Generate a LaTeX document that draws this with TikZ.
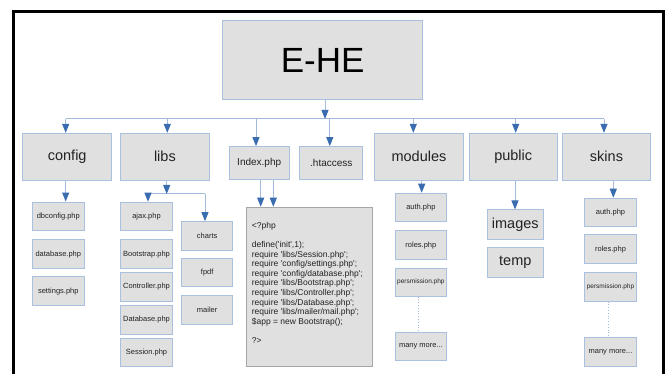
\documentclass[tikz,border=0pt]{standalone}
\usepackage{fontspec}
\setmainfont{Liberation Sans}
\usetikzlibrary{arrows.meta}
\definecolor{boxfill}{HTML}{E0E0E0}
\definecolor{boxborder}{HTML}{A9C0DE}
\definecolor{linec}{HTML}{A3BBDA}
\definecolor{arrowc}{HTML}{3A6CB0}
\definecolor{textc}{HTML}{222222}
\definecolor{codeborder}{HTML}{A6A6A6}
\newcommand{\qq}{\textquotesingle}
\tikzset{
  box/.style={draw=boxborder, fill=boxfill, line width=1pt, inner sep=0pt, text=textc},
  bigbox/.style={box, font=\fontsize{14.5}{17}\selectfont, minimum height=46.7pt},
  midbox/.style={box, font=\fontsize{10}{12}\selectfont, minimum height=33.3pt},
  smallbox/.style={box, font=\fontsize{7.5}{9}\selectfont, minimum width=52pt, minimum height=28.5pt},
  conn/.style={draw=linec, line width=1pt},
  arr/.style={conn, -{Triangle[width=7pt,length=9pt,color=arrowc]}},
  dotline/.style={draw=linec, line width=0.8pt, dotted}
}
\begin{document}
\begin{tikzpicture}[x=1pt,y=-1pt]
\useasboundingbox (0,0) rectangle (670,374);
% frame
\draw[line width=3.3pt, black] (13.7,374) -- (13.7,11.7) -- (663.5,11.7) -- (663.5,374);

% root
\node[box, minimum width=200pt, minimum height=79pt, font=\fontsize{35}{40}\selectfont, text=black] (ehe) at (322.7,60.5) {E-HE};

% level 1
\node[bigbox, minimum width=89pt] (config) at (67.2,156.7) {config};
\node[bigbox, minimum width=88.3pt] (libs) at (164.9,156.7) {libs};
\node[midbox, minimum width=60.3pt] (index) at (259.2,163.3) {Index.php};
\node[midbox, minimum width=62.7pt] (htaccess) at (331.3,163.3) {.htaccess};
\node[bigbox, minimum width=88.6pt] (modules) at (419,156.7) {modules};
\node[bigbox, minimum width=88.3pt] (public) at (513.2,156.7) {public};
\node[bigbox, minimum width=88.4pt] (skins) at (606.5,156.7) {skins};

% bus
\coordinate (busL) at (65.7,119);
\coordinate (busR) at (604,119);
\coordinate (busM) at (325,119);
\draw[conn] (busL) -- (busR);
\draw[arr] (ehe.south -| busM) -- (busM);
\draw[arr] (busL) -- (busL |- config.north);
\draw[arr] ([xshift=2.4pt]libs.north |- busL) -- ([xshift=2.4pt]libs.north);
\draw[arr] ([xshift=-3.2pt]index.north |- busL) -- ([xshift=-3.2pt]index.north);
\draw[arr] ([xshift=-1.5pt]htaccess.north |- busL) -- ([xshift=-1.5pt]htaccess.north);
\draw[arr] ([xshift=-5.7pt]modules.north |- busL) -- ([xshift=-5.7pt]modules.north);
\draw[arr] ([xshift=2.5pt]public.north |- busL) -- ([xshift=2.5pt]public.north);
\draw[arr] (busR) -- (busR |- skins.north);

% config children
\node[smallbox] (dbconfig) at (58.3,216.3) {dbconfig.php};
\node[smallbox] (cdatabase) at (58.3,254.2) {database.php};
\node[smallbox, minimum height=29pt] (settings) at (58.3,291.2) {settings.php};
\draw[arr] ([xshift=-1.5pt]config.south) -- ([xshift=-1.5pt]config.south |- dbconfig.north);

% libs children
\node[smallbox, minimum width=51.6pt] (ajax) at (146.5,216.5) {ajax.php};
\node[smallbox, minimum width=51.6pt] (bootstrap) at (146.5,254.2) {Bootstrap.php};
\node[smallbox, minimum width=51.6pt] (controller) at (146.5,286.9) {Controller.php};
\node[smallbox, minimum width=51.6pt] (ldatabase) at (146.5,319.9) {Database.php};
\node[smallbox, minimum width=51.6pt] (session) at (146.5,352.4) {Session.php};
\node[smallbox, minimum width=51pt] (charts) at (207.2,235.9) {charts};
\node[smallbox, minimum width=51pt] (fpdf) at (207.2,272.5) {fpdf};
\node[smallbox, minimum width=51pt] (mailer) at (207.2,310.2) {mailer};
\coordinate (lbusL) at (148,194);
\coordinate (lbusR) at (205,194);
\coordinate (lbusM) at (166.7,194);
\draw[conn] (lbusL) -- (lbusR);
\draw[arr] (libs.south -| lbusM) -- (lbusM);
\draw[arr] (lbusL) -- (lbusL |- ajax.north);
\draw[arr] (lbusR) -- (lbusR |- charts.north);

% index code
\node[draw=codeborder, fill=boxfill, line width=1.1pt, minimum width=126.3pt, minimum height=159.4pt, inner sep=0pt] (code) at (309.2,287) {};
\node[anchor=north west, align=left, inner sep=0pt, text=textc, font=\fontsize{8.5}{9.6}\selectfont] (codetxt) at (251.7,222) {%
<?php\\[9.6pt]
define(\qq init\qq,1);\\
require \qq libs/Session.php\qq;\\
require \qq config/settings.php\qq;\\
require \qq config/database.php\qq;\\
require \qq libs/Bootstrap.php\qq;\\
require \qq libs/Controller.php\qq;\\
require \qq libs/Database.php\qq;\\
require \qq libs/mailer/mail.php\qq;\\
\$app = new Bootstrap();\\[9.6pt]
?>};
\draw[arr] ([xshift=1.5pt]index.south) -- ([xshift=1.5pt]index.south |- code.north);
\draw[arr] ([xshift=14.1pt]index.south) -- ([xshift=14.1pt]index.south |- code.north);

% modules children
\node[smallbox, minimum width=51.7pt] (mauth) at (420.9,207.5) {auth.php};
\node[smallbox, minimum width=51.7pt] (mroles) at (420.9,245.2) {roles.php};
\node[smallbox, minimum width=51.7pt, minimum height=27.7pt, font=\fontsize{6.5}{8}\selectfont] (mperm) at (420.9,282.2) {persmission.php};
\node[smallbox, minimum width=51.7pt, minimum height=28pt] (mmore) at (420.9,346.7) {many more...};
\draw[arr] ([xshift=2.7pt]modules.south) -- ([xshift=2.7pt]modules.south |- mauth.north);
\draw[dotline] ([xshift=-2.6pt]mperm.south) -- ([xshift=-2.6pt]mperm.south |- mmore.north);

% public children
\node[box, minimum width=56pt, minimum height=30pt, font=\fontsize{14.5}{17}\selectfont] (images) at (515.3,225) {images};
\node[box, minimum width=56pt, minimum height=29.6pt, font=\fontsize{14.5}{17}\selectfont] (temp) at (515.3,262.5) {temp};
\draw[arr] ([xshift=1.8pt]public.south) -- ([xshift=1.8pt]public.south |- images.north);

% skins children
\node[smallbox, minimum width=52.4pt] (sauth) at (610.5,212.5) {auth.php};
\node[smallbox, minimum width=52.4pt] (sroles) at (610.5,249.2) {roles.php};
\node[smallbox, minimum width=52.4pt, font=\fontsize{6.5}{8}\selectfont] (sperm) at (610.5,286.9) {persmission.php};
\node[smallbox, minimum width=52.4pt, minimum height=29pt] (smore) at (610.5,352.2) {many more...};
\draw[arr] ([xshift=6.8pt]skins.south) -- ([xshift=6.8pt]skins.south |- sauth.north);
\draw[dotline] ([xshift=-2.2pt]sperm.south) -- ([xshift=-2.2pt]sperm.south |- smore.north);
\end{tikzpicture}
\end{document}
